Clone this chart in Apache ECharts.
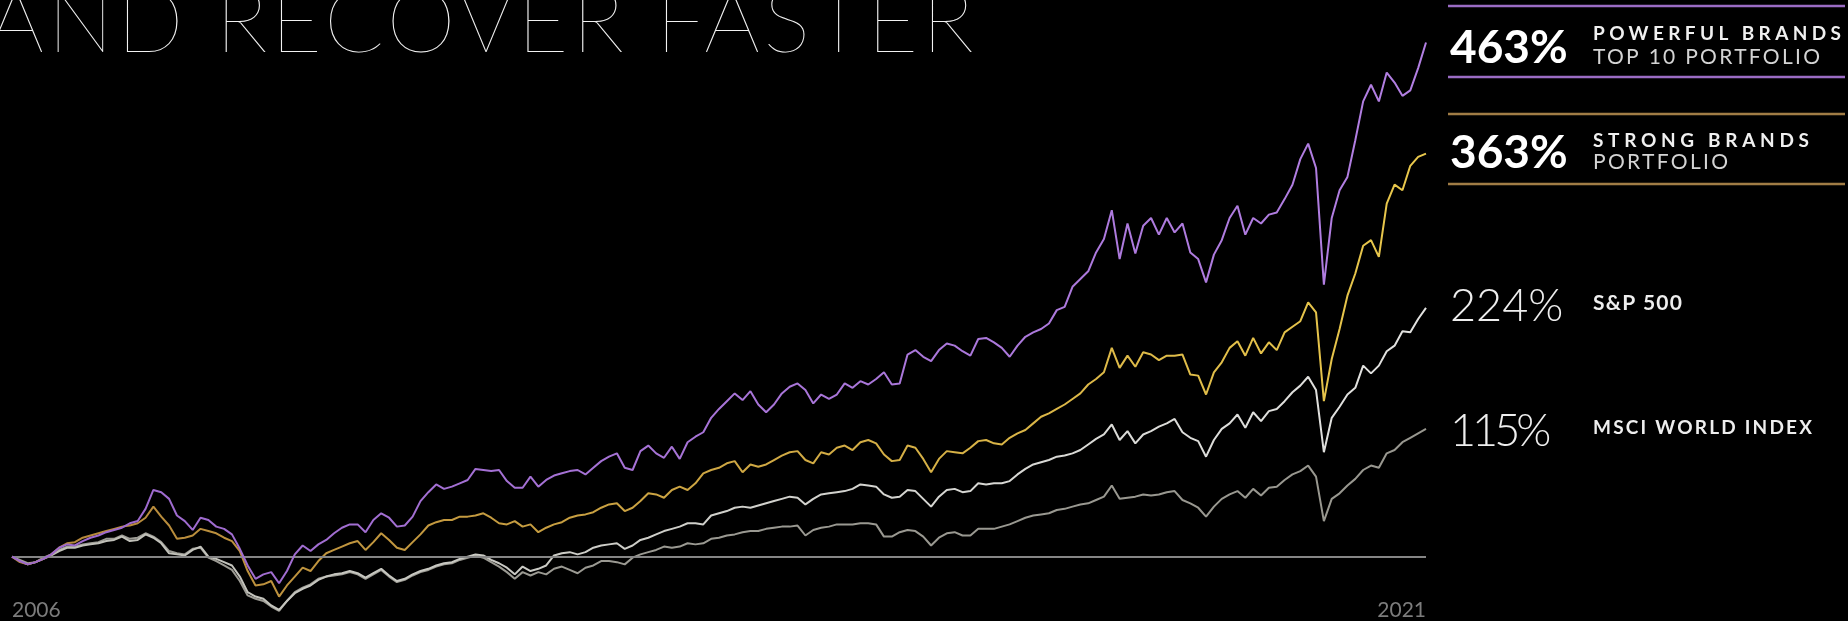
<!DOCTYPE html>
<html>
<head>
<meta charset="utf-8">
<script src="https://cdn.jsdelivr.net/npm/echarts@6/dist/echarts.min.js"></script>
<style>
  html, body { margin: 0; padding: 0; background: #000; }
  #chart { width: 1848px; height: 621px; }
</style>
</head>
<body>
<div id="chart"></div>
<script>
// Monthly cumulative total return (%) since May 2006.
const startYear = 2006, startMonth = 5, monthCount = 181;

const powerfulBrands = [
  0, -4, -7, -5, -2, 2, 8, 11, 10, 14,
  17, 19, 22, 24, 26, 30, 32, 43, 60, 58,
  52, 37, 32, 24, 35, 33, 27, 25, 20, 7,
  -8, -20, -16, -14, -24, -13, 2, 10, 5, 11,
  15, 21, 26, 29, 29, 22, 33, 39, 35, 27,
  28, 36, 50, 58, 65, 61, 63, 66, 69, 79,
  78, 77, 78, 68, 62, 62, 72, 63, 69, 73,
  75, 77, 78, 74, 80, 86, 90, 93, 80, 78,
  95, 100, 93, 89, 99, 88, 103, 108, 112, 125,
  133, 140, 147, 141, 149, 137, 130, 137, 147, 153,
  156, 150, 138, 146, 142, 146, 156, 152, 158, 155,
  160, 166, 155, 156, 182, 186, 180, 176, 186, 192,
  190, 185, 181, 196, 197, 193, 188, 180, 190, 198,
  202, 205, 210, 222, 225, 243, 250, 257, 274, 286,
  312, 268, 300, 273, 298, 305, 290, 305, 292, 300,
  274, 268, 247, 272, 285, 305, 316, 290, 305, 300,
  308, 310, 322, 335, 358, 372, 350, 245, 305, 330,
  342, 375, 410, 425, 410, 436, 427, 415, 420, 440,
  463
];

const strongBrands = [
  0, -5, -7, -5, -2, 2, 8, 12, 13, 17,
  19, 21, 23, 25, 27, 28, 30, 35, 45, 36,
  28, 16, 17, 19, 25, 23, 21, 17, 14, 5,
  -13, -26, -25, -22, -36, -26, -18, -10, -13, -4,
  3, 6, 9, 12, 14, 6, 13, 21, 15, 8,
  6, 13, 20, 28, 31, 33, 33, 36, 36, 37,
  39, 35, 30, 29, 32, 27, 29, 22, 26, 29,
  31, 35, 37, 38, 40, 44, 47, 48, 41, 44,
  50, 57, 56, 53, 60, 63, 60, 66, 75, 78,
  80, 84, 86, 76, 83, 81, 83, 87, 91, 94,
  95, 87, 84, 94, 92, 98, 100, 96, 103, 105,
  102, 92, 86, 87, 100, 98, 88, 76, 88, 95,
  94, 93, 98, 104, 105, 102, 101, 107, 111, 114,
  120, 126, 129, 133, 137, 142, 147, 155, 160, 166,
  188, 170, 181, 171, 184, 182, 177, 181, 181, 182,
  164, 163, 146, 166, 175, 188, 194, 181, 197, 183,
  193, 186, 202, 207, 212, 229, 220, 140, 178, 205,
  235, 255, 280, 285, 270, 318, 335, 330, 352, 360,
  363
];

const sp500 = [
  0, -4, -7, -5, -2, 1, 5, 8, 8, 10,
  11, 12, 14, 15, 18, 14, 15, 20, 17, 12,
  3, 2, 1, 6, 9, 0, -2, -5, -8, -18,
  -32, -36, -38, -44, -48, -40, -33, -29, -26, -21,
  -18, -16, -15, -13, -15, -19, -15, -11, -17, -22,
  -20, -16, -13, -11, -8, -6, -5, -2, 0, 2,
  1, -3, -6, -10, -16, -9, -13, -11, -8, 1,
  3, 4, 2, 4, 8, 10, 11, 12, 7, 10,
  15, 17, 20, 23, 25, 27, 30, 30, 29, 37,
  39, 41, 44, 45, 44, 46, 48, 50, 52, 54,
  53, 47, 52, 56, 57, 58, 59, 61, 65, 64,
  63, 56, 53, 54, 60, 59, 52, 45, 54, 60,
  61, 58, 59, 66, 65, 66, 66, 68, 74, 79,
  83, 85, 87, 90, 91, 93, 96, 101, 106, 110,
  119, 105, 113, 102, 110, 113, 117, 120, 124, 112,
  107, 104, 90, 105, 115, 120, 128, 116, 130, 122,
  131, 133, 140, 148, 154, 162, 150, 94, 125, 135,
  146, 152, 172, 165, 172, 185, 190, 203, 202, 214,
  224
];

const msciWorld = [
  0, -3, -6, -5, -1, 2, 6, 9, 9, 11,
  12, 13, 16, 16, 19, 16, 17, 21, 18, 13,
  5, 3, 2, 7, 8, -1, -4, -8, -12, -22,
  -35, -38, -40, -45, -49, -40, -32, -28, -25, -20,
  -18, -17, -16, -14, -16, -20, -16, -12, -18, -23,
  -21, -17, -14, -12, -9, -7, -6, -3, -1, 1,
  -1, -5, -9, -14, -20, -14, -17, -14, -16, -11,
  -9, -12, -15, -10, -8, -4, -4, -5, -7, -1,
  2, 4, 6, 9, 8, 9, 12, 11, 12, 16,
  17, 19, 20, 22, 23, 23, 25, 26, 27, 27,
  28, 19, 24, 26, 27, 29, 29, 29, 30, 30,
  29, 18, 18, 22, 24, 23, 18, 10, 17, 21,
  22, 19, 19, 25, 25, 25, 27, 29, 32, 35,
  37, 38, 39, 42, 43, 45, 47, 48, 51, 54,
  64, 52, 53, 54, 56, 55, 56, 58, 59, 51,
  48, 44, 36, 45, 52, 56, 59, 53, 61, 55,
  62, 63, 69, 74, 77, 82, 72, 32, 52, 57,
  64, 70, 78, 82, 80, 93, 96, 103, 107, 111,
  115
];

// Legend entries: total return, name lines
const totals = ['463%', '363%', '224%', '115%'];
const names = [
  ['POWERFUL BRANDS', 'TOP 10 PORTFOLIO'],
  ['STRONG BRANDS', 'PORTFOLIO'],
  ['S&P 500'],
  ['MSCI WORLD INDEX']
];
const headline = 'AND RECOVER FASTER';

// Month categories for the x axis
const months = [];
for (let k = 0; k < monthCount; k++) {
  const m = startMonth - 1 + k;
  months.push((startYear + Math.floor(m / 12)) + '-' + String(m % 12 + 1).padStart(2, '0'));
}

const chart = echarts.init(document.getElementById('chart'), null, { renderer: 'canvas' });

function hGrad(c0, c1) {
  return { type: 'linear', x: 0, y: 0, x2: 1, y2: 0, colorStops: [{ offset: 0, color: c0 }, { offset: 1, color: c1 }] };
}

// Fonts of the display texts
const F = {
  headline: '200 88px Lato',
  total: 'bold 46px Lato',
  totalLight: '300 45px Lato',
  nameBold: 'bold 19px Lato',
  nameReg: '21px Lato',
  nameSmallBold: 'bold 21px Lato'
};

// Tracking per text: spacing chosen so the text spans the given width
const measureCtx = document.createElement('canvas').getContext('2d');
const tracking = {};
function fitTrack(text, font, width) {
  measureCtx.font = font;
  const w = measureCtx.measureText(text).width;
  tracking[text] = Math.max(0, (width - w) / Math.max(1, text.length - 1));
}
tracking[headline] = 3.4;
tracking[totals[3]] = -4;
fitTrack(names[0][0], F.nameBold, 248);
fitTrack(names[0][1], F.nameReg, 227);
fitTrack(names[1][0], F.nameBold, 216);
fitTrack(names[1][1], F.nameReg, 135);
fitTrack(names[2][0], F.nameSmallBold, 89);
fitTrack(names[3][0], F.nameBold, 219);

function txt(text, x, y, font, fill) {
  return {
    type: 'text', silent: true, z: 10,
    style: { text: text, x: x, y: y, font: font, fill: fill,
             align: 'left', textAlign: 'left', verticalAlign: 'middle', textVerticalAlign: 'middle' }
  };
}
function rule(y, color) {
  return { type: 'line', silent: true, z: 10,
           shape: { x1: 1448, y1: y, x2: 1845, y2: y },
           style: { stroke: color, lineWidth: 2.5 } };
}

const lineBase = { type: 'line', showSymbol: false, symbol: 'none', clip: false, animation: false, silent: true };

const option = {
  backgroundColor: '#000',
  animation: false,
  grid: { left: 12, right: 422, top: 1.5, bottom: 17.4, containLabel: false },
  xAxis: {
    type: 'category', data: months, boundaryGap: false,
    axisLine: { show: false }, axisTick: { show: false }, splitLine: { show: false },
    axisLabel: {
      show: true, margin: -1, color: '#7c7c7c', fontFamily: 'Lato', fontSize: 21,
      interval: function (index) { return index === 0 || index === monthCount - 1; },
      formatter: function (v) { return v.slice(0, 4); },
      alignMinLabel: 'left', alignMaxLabel: 'right'
    }
  },
  yAxis: { type: 'value', min: -40, max: 500, show: false, splitLine: { show: false } },
  series: [
    Object.assign({}, lineBase, {
      name: 'MSCI World Index', data: msciWorld, z: 2,
      lineStyle: { width: 2, color: hGrad('#9c9b94', '#98978f') },
      markLine: {
        silent: true, symbol: ['none', 'none'], label: { show: false },
        lineStyle: { color: '#858585', width: 2, type: 'solid' },
        data: [{ yAxis: 0 }], animation: false
      }
    }),
    Object.assign({}, lineBase, {
      name: 'S&P 500', data: sp500, z: 3,
      lineStyle: { width: 2, color: hGrad('#bdbdb5', '#e2e2e0') }
    }),
    Object.assign({}, lineBase, {
      name: 'Strong Brands Portfolio', data: strongBrands, z: 4,
      lineStyle: { width: 2, color: hGrad('#b3853a', '#e9c84c') }
    }),
    Object.assign({}, lineBase, {
      name: 'Powerful Brands Top 10 Portfolio', data: powerfulBrands, z: 5,
      lineStyle: { width: 2, color: hGrad('#9c68cc', '#b27fe2') }
    })
  ],
  graphic: [
    txt(headline, -12, 24, F.headline, '#f2f2f2'),
    rule(6, '#9a6cc4'),
    txt(totals[0], 1450, 48, F.total, '#ffffff'),
    txt(names[0][0], 1593, 34, F.nameBold, '#f0f0f0'),
    txt(names[0][1], 1593, 57, F.nameReg, '#d4d4d4'),
    rule(77, '#9a6cc4'),
    rule(114, '#a07c45'),
    txt(totals[1], 1450, 153, F.total, '#ffffff'),
    txt(names[1][0], 1593, 141, F.nameBold, '#f0f0f0'),
    txt(names[1][1], 1593, 162.5, F.nameReg, '#d4d4d4'),
    rule(184, '#a07c45'),
    txt(totals[2], 1450, 306, F.totalLight, '#eeeeee'),
    txt(names[2][0], 1593, 303, F.nameSmallBold, '#eeeeee'),
    txt(totals[3], 1450, 431, F.totalLight, '#eeeeee'),
    txt(names[3][0], 1593, 427.5, F.nameBold, '#eeeeee')
  ]
};

chart.setOption(option);

// Apply the tracking through the canvas letterSpacing, per text span
function applyTracking() {
  try {
    const canvas = chart.getDom().querySelector('canvas');
    if (!canvas) return;
    const ctx = canvas.getContext('2d');
    if (!('letterSpacing' in ctx)) return;
    const zr = chart.getZr();
    zr.storage.getDisplayList(true).forEach(function (el) {
      const t = el.style && el.style.text;
      if (t != null && Object.prototype.hasOwnProperty.call(tracking, t)) {
        const sp = tracking[t].toFixed(2) + 'px';
        el.beforeBrush = function () { ctx.letterSpacing = sp; };
        el.afterBrush = function () { ctx.letterSpacing = '0px'; };
        el.markRedraw();
      }
    });
    if (zr.painter && zr.painter.refresh) zr.painter.refresh(true);
    else zr.refreshImmediately();
  } catch (e) { /* tracking is cosmetic */ }
}
applyTracking();
setTimeout(applyTracking, 50);
</script>
</body>
</html>
